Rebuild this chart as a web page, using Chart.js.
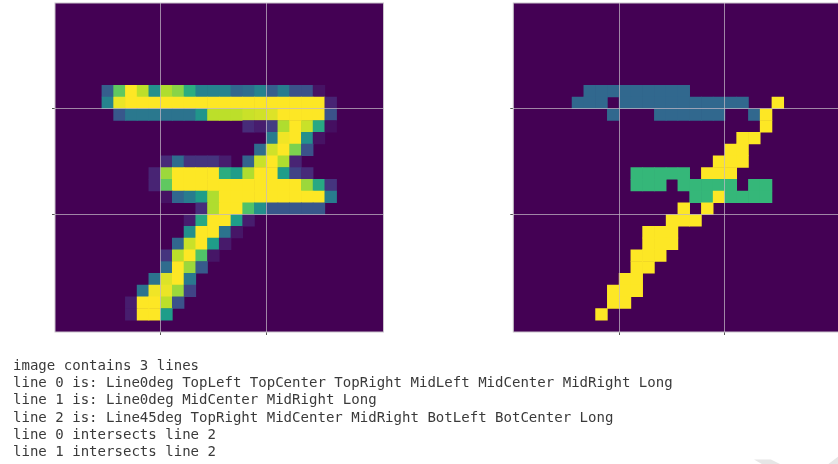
<!DOCTYPE html>
<html>
<head>
<meta charset="utf-8">
<script src="https://cdn.jsdelivr.net/npm/chart.js@4"></script>
<style>
  html, body { margin: 0; padding: 0; background: #fff; width: 838px; height: 464px; overflow: hidden; }
  canvas { position: absolute; top: 0; filter: blur(0.4px); }
  #left { left: 40px; }
  #right { left: 498px; }
  #log {
    position: absolute; left: 13px; top: 357px; margin: 0;
    font: 14.05px/17.2px "DejaVu Sans Mono", monospace; color: #3a3a3a;
    filter: blur(0.3px);
  }
  /* corner of the watermark that is cut off in the screenshot */
  .mark { position: absolute; top: 456px; height: 8px; background: #e6e6e6; }
  #markA { left: 754px; width: 26px; clip-path: polygon(0 45%, 65% 45%, 100% 100%, 30% 100%); }
  #markB { left: 826px; width: 12px; clip-path: polygon(100% 10%, 100% 100%, 20% 100%); }
</style>
</head>
<body>
<canvas id="left" width="360" height="345"></canvas>
<canvas id="right" width="360" height="345"></canvas>
<pre id="log"></pre>
<div class="mark" id="markA"></div>
<div class="mark" id="markB"></div>
<script>
// greyscale digit, 0..1 per pixel
const digitImage = [
  [0,0,0,0,0,0,0,0,0,0,0,0,0,0,0,0,0,0,0,0,0,0,0,0,0,0,0,0],
  [0,0,0,0,0,0,0,0,0,0,0,0,0,0,0,0,0,0,0,0,0,0,0,0,0,0,0,0],
  [0,0,0,0,0,0,0,0,0,0,0,0,0,0,0,0,0,0,0,0,0,0,0,0,0,0,0,0],
  [0,0,0,0,0,0,0,0,0,0,0,0,0,0,0,0,0,0,0,0,0,0,0,0,0,0,0,0],
  [0,0,0,0,0,0,0,0,0,0,0,0,0,0,0,0,0,0,0,0,0,0,0,0,0,0,0,0],
  [0,0,0,0,0,0,0,0,0,0,0,0,0,0,0,0,0,0,0,0,0,0,0,0,0,0,0,0],
  [0,0,0,0,0,0,0,0,0,0,0,0,0,0,0,0,0,0,0,0,0,0,0,0,0,0,0,0],
  [0,0,0,0,.3,.75,1,.9,.5,.88,.82,.62,.45,.45,.45,.33,.36,.45,.3,.42,.25,.25,.05,0,0,0,0,0],
  [0,0,0,0,.45,.97,1,1,1,1,1,1,1,1,1,1,1,1,1,1,1,1,1,.1,0,0,0,0],
  [0,0,0,0,0,.27,.4,.4,.4,.38,.38,.38,.52,.9,.9,.9,.92,.93,.95,1,1,1,1,.25,0,0,0,0],
  [0,0,0,0,0,0,0,0,0,0,0,0,0,0,0,0,.12,.08,.18,.88,1,.92,.6,.04,0,0,0,0],
  [0,0,0,0,0,0,0,0,0,0,0,0,0,0,0,0,0,0,.42,.98,1,.5,.05,0,0,0,0,0],
  [0,0,0,0,0,0,0,0,0,0,0,0,0,0,0,0,0,.35,.93,1,.8,.25,0,0,0,0,0,0],
  [0,0,0,0,0,0,0,0,0,.12,.35,.15,.15,.15,.08,0,.32,.92,1,.88,.1,0,0,0,0,0,0,0],
  [0,0,0,0,0,0,0,0,.1,.85,1,1,1,1,.62,.55,.88,1,1,.55,.2,.12,0,0,0,0,0,0],
  [0,0,0,0,0,0,0,0,.1,.75,1,1,1,1,1,1,1,1,1,1,1,.85,.6,.15,0,0,0,0],
  [0,0,0,0,0,0,0,0,0,.05,.33,.42,.55,.88,1,1,1,1,1,1,1,1,1,.42,0,0,0,0],
  [0,0,0,0,0,0,0,0,0,0,0,0,.13,.88,1,1,.72,.5,.27,.27,.27,.27,.27,0,0,0,0,0],
  [0,0,0,0,0,0,0,0,0,0,0,.08,.6,1,1,.55,.08,0,0,0,0,0,0,0,0,0,0,0],
  [0,0,0,0,0,0,0,0,0,0,0,.5,1,1,.38,.06,0,0,0,0,0,0,0,0,0,0,0,0],
  [0,0,0,0,0,0,0,0,0,0,.33,.92,1,.55,.07,0,0,0,0,0,0,0,0,0,0,0,0,0],
  [0,0,0,0,0,0,0,0,0,.15,.9,1,.72,.06,0,0,0,0,0,0,0,0,0,0,0,0,0,0],
  [0,0,0,0,0,0,0,0,0,.35,1,.85,.28,0,0,0,0,0,0,0,0,0,0,0,0,0,0,0],
  [0,0,0,0,0,0,0,0,.38,.95,1,.4,0,0,0,0,0,0,0,0,0,0,0,0,0,0,0,0],
  [0,0,0,0,0,0,0,.38,.98,.97,.85,.2,0,0,0,0,0,0,0,0,0,0,0,0,0,0,0,0],
  [0,0,0,0,0,0,.08,1,1,.9,.25,0,0,0,0,0,0,0,0,0,0,0,0,0,0,0,0,0],
  [0,0,0,0,0,0,.08,1,1,.55,0,0,0,0,0,0,0,0,0,0,0,0,0,0,0,0,0,0],
  [0,0,0,0,0,0,0,0,0,0,0,0,0,0,0,0,0,0,0,0,0,0,0,0,0,0,0,0]
];

// detected lines, 0 = none, then line 0 / line 1 / line 2
const lineMask = [
  [0,0,0,0,0,0,0,0,0,0,0,0,0,0,0,0,0,0,0,0,0,0,0,0,0,0,0,0],
  [0,0,0,0,0,0,0,0,0,0,0,0,0,0,0,0,0,0,0,0,0,0,0,0,0,0,0,0],
  [0,0,0,0,0,0,0,0,0,0,0,0,0,0,0,0,0,0,0,0,0,0,0,0,0,0,0,0],
  [0,0,0,0,0,0,0,0,0,0,0,0,0,0,0,0,0,0,0,0,0,0,0,0,0,0,0,0],
  [0,0,0,0,0,0,0,0,0,0,0,0,0,0,0,0,0,0,0,0,0,0,0,0,0,0,0,0],
  [0,0,0,0,0,0,0,0,0,0,0,0,0,0,0,0,0,0,0,0,0,0,0,0,0,0,0,0],
  [0,0,0,0,0,0,0,0,0,0,0,0,0,0,0,0,0,0,0,0,0,0,0,0,0,0,0,0],
  [0,0,0,0,0,0,1,1,1,1,1,1,1,1,1,0,0,0,0,0,0,0,0,0,0,0,0,0],
  [0,0,0,0,0,1,1,1,0,1,1,1,1,1,1,1,1,1,1,1,0,0,3,0,0,0,0,0],
  [0,0,0,0,0,0,0,0,1,0,0,0,1,1,1,1,1,1,0,0,1,3,0,0,0,0,0,0],
  [0,0,0,0,0,0,0,0,0,0,0,0,0,0,0,0,0,0,0,0,0,3,0,0,0,0,0,0],
  [0,0,0,0,0,0,0,0,0,0,0,0,0,0,0,0,0,0,0,3,3,0,0,0,0,0,0,0],
  [0,0,0,0,0,0,0,0,0,0,0,0,0,0,0,0,0,0,3,3,0,0,0,0,0,0,0,0],
  [0,0,0,0,0,0,0,0,0,0,0,0,0,0,0,0,0,3,3,3,0,0,0,0,0,0,0,0],
  [0,0,0,0,0,0,0,0,0,0,2,2,2,2,2,0,3,3,3,0,0,0,0,0,0,0,0,0],
  [0,0,0,0,0,0,0,0,0,0,2,2,2,0,2,2,2,2,2,0,2,2,0,0,0,0,0,0],
  [0,0,0,0,0,0,0,0,0,0,0,0,0,0,0,2,2,3,2,2,2,2,0,0,0,0,0,0],
  [0,0,0,0,0,0,0,0,0,0,0,0,0,0,3,0,3,0,0,0,0,0,0,0,0,0,0,0],
  [0,0,0,0,0,0,0,0,0,0,0,0,0,3,3,3,0,0,0,0,0,0,0,0,0,0,0,0],
  [0,0,0,0,0,0,0,0,0,0,0,3,3,3,0,0,0,0,0,0,0,0,0,0,0,0,0,0],
  [0,0,0,0,0,0,0,0,0,0,0,3,3,3,0,0,0,0,0,0,0,0,0,0,0,0,0,0],
  [0,0,0,0,0,0,0,0,0,0,3,3,3,0,0,0,0,0,0,0,0,0,0,0,0,0,0,0],
  [0,0,0,0,0,0,0,0,0,0,3,3,0,0,0,0,0,0,0,0,0,0,0,0,0,0,0,0],
  [0,0,0,0,0,0,0,0,0,3,3,0,0,0,0,0,0,0,0,0,0,0,0,0,0,0,0,0],
  [0,0,0,0,0,0,0,0,3,3,3,0,0,0,0,0,0,0,0,0,0,0,0,0,0,0,0,0],
  [0,0,0,0,0,0,0,0,3,3,0,0,0,0,0,0,0,0,0,0,0,0,0,0,0,0,0,0],
  [0,0,0,0,0,0,0,3,0,0,0,0,0,0,0,0,0,0,0,0,0,0,0,0,0,0,0,0],
  [0,0,0,0,0,0,0,0,0,0,0,0,0,0,0,0,0,0,0,0,0,0,0,0,0,0,0,0]
];

const tickValues = [8.5, 17.5];
const logLines = [
  "image contains 3 lines",
  "line 0 is: Line0deg TopLeft TopCenter TopRight MidLeft MidCenter MidRight Long",
  "line 1 is: Line0deg MidCenter MidRight Long",
  "line 2 is: Line45deg TopRight MidCenter MidRight BotLeft BotCenter Long",
  "line 0 intersects line 2",
  "line 1 intersects line 2"
];

// viridis stops, 0 to 1
const viridis = [[68,1,84],[72,40,120],[62,74,137],[49,104,142],[38,130,142],[31,158,137],[53,183,121],[110,206,88],[181,222,43],[253,231,37]];

function viridisColor(t) {
  const p = Math.min(Math.max(t, 0), 1) * (viridis.length - 1);
  const i = Math.min(Math.floor(p), viridis.length - 2);
  const f = p - i;
  const c = viridis[i].map((v, k) => Math.round(v + (viridis[i + 1][k] - v) * f));
  return `rgb(${c[0]},${c[1]},${c[2]})`;
}

// dark fill behind the cells hides the hairline seams between bars,
// and spines on all four sides since chart.js only gives us the axis ones
const panelFrame = {
  id: "panelFrame",
  beforeDatasetsDraw(chart) {
    const { ctx, chartArea: a } = chart;
    ctx.save();
    ctx.fillStyle = viridisColor(0);
    ctx.fillRect(a.left, a.top, a.right - a.left, a.bottom - a.top);
    ctx.restore();
  },
  afterDraw(chart) {
    const { ctx, chartArea: a } = chart;
    ctx.save();
    ctx.strokeStyle = "#c9c3cb";
    ctx.lineWidth = 1;
    ctx.strokeRect(a.left, a.top, a.right - a.left, a.bottom - a.top);
    ctx.restore();
  }
};

function setTicks(axis) {
  axis.ticks = tickValues.map((v) => ({ value: v }));
}

function axisOptions(reverse) {
  return {
    type: "linear",
    min: -0.5,
    max: 27.5,
    reverse: reverse,
    offset: false,
    afterBuildTicks: setTicks,
    border: { display: false },
    grid: { offset: false, color: "rgba(196,186,198,0.72)", lineWidth: 1, z: 1, tickLength: 3, tickColor: "#555" },
    ticks: { display: false }
  };
}

function drawImage(id, rows, maxValue, padding) {
  const cells = [];
  const colors = [];
  rows.forEach((row, r) => {
    row.forEach((v, c) => {
      if (v === 0) return;
      cells.push({ x: c, y: [r - 0.5, r + 0.5] });
      colors.push(viridisColor(v / maxValue));
    });
  });
  new Chart(document.getElementById(id), {
    type: "bar",
    data: {
      datasets: [{
        data: cells,
        backgroundColor: colors,
        barPercentage: 1,
        categoryPercentage: 1
      }]
    },
    options: {
      responsive: false,
      animation: false,
      devicePixelRatio: 1,
      layout: { padding: padding },
      plugins: { legend: { display: false }, tooltip: { enabled: false } },
      scales: { x: axisOptions(false), y: axisOptions(true) }
    },
    plugins: [panelFrame]
  });
}

drawImage("left", digitImage, 1, { left: 12, top: 3, right: 16.5, bottom: 10 });
drawImage("right", lineMask, 3, { left: 12.3, top: 3, right: 15.5, bottom: 10 });

document.getElementById("log").textContent = logLines.join("\n");
</script>
</body>
</html>
